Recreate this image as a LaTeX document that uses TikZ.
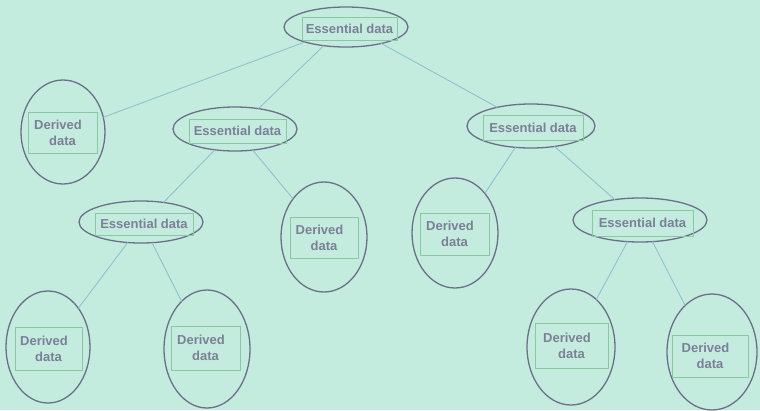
\documentclass[tikz,border=0pt]{standalone}
\usepackage{fontspec}
\setmainfont{Liberation Sans}
\usetikzlibrary{shapes.geometric}
\definecolor{bgc}{HTML}{C3ECDF}
\definecolor{ellc}{HTML}{6B7088}
\definecolor{rectc}{HTML}{88C9A0}
\definecolor{txtc}{HTML}{7C8096}
\definecolor{linkc}{HTML}{90C2CD}
\newcommand{\derivedtxt}{Derived\kern9pt\\data}
\tikzset{
  oval/.style={ellipse,draw=ellc,line width=1.3pt,inner sep=0pt,outer sep=0pt},
  box/.style={rectangle,draw=rectc,line width=0.8pt,inner sep=0pt,outer sep=0pt,
    text=txtc,align=center,font=\bfseries\fontsize{13}{16}\selectfont},
  link/.style={draw=linkc,line width=0.9pt}
}
\begin{document}
\begin{tikzpicture}[x=1pt,y=-1pt]
\fill[bgc] (0,0) rectangle (760,410);
\useasboundingbox (0,0) rectangle (760,410);
% ellipses
\node[oval,minimum width=124pt,minimum height=40pt] (top) at (346,27) {};
\node[oval,minimum width=84pt,minimum height=104pt] (d1) at (63,132) {};
\node[oval,minimum width=124pt,minimum height=44pt] (e2l) at (235,129) {};
\node[oval,minimum width=128pt,minimum height=44pt] (e2r) at (531,126) {};
\node[oval,minimum width=124pt,minimum height=42pt] (e3l) at (141,222) {};
\node[oval,minimum width=86pt,minimum height=110pt] (d2) at (324,237) {};
\node[oval,minimum width=86pt,minimum height=110pt] (d3) at (455,233) {};
\node[oval,minimum width=134pt,minimum height=44pt] (e3r) at (640,220) {};
\node[oval,minimum width=84pt,minimum height=112pt] (d4) at (48,347) {};
\node[oval,minimum width=86pt,minimum height=118pt] (d5) at (207,349) {};
\node[oval,minimum width=88pt,minimum height=116pt] (d6) at (571,347) {};
\node[oval,minimum width=90pt,minimum height=116pt] (d7) at (712,352) {};
% boxes
\node[box,minimum width=95pt,minimum height=23pt] (topr) at (349.5,28.5) {Essential data};
\node[box,minimum width=69pt,minimum height=41pt] (d1r) at (62.5,132.5) {\derivedtxt};
\node[box,minimum width=97pt,minimum height=24pt] (e2lr) at (237.5,131) {Essential data};
\node[box,minimum width=100pt,minimum height=25pt] (e2rr) at (533,127.5) {Essential data};
\node[box,minimum width=98pt,minimum height=22pt] (e3lr) at (144,224) {Essential data};
\node[box,minimum width=68pt,minimum height=41pt] (d2r) at (324,237.5) {\derivedtxt};
\node[box,minimum width=69pt,minimum height=42pt] (d3r) at (454.5,234) {\derivedtxt};
\node[box,minimum width=101pt,minimum height=26pt] (e3rr) at (642.5,223) {Essential data};
\node[box,minimum width=67pt,minimum height=43pt] (d4r) at (48.5,348.5) {\derivedtxt};
\node[box,minimum width=69pt,minimum height=44pt] (d5r) at (205.5,348) {\derivedtxt};
\node[box,minimum width=73pt,minimum height=45pt] (d6r) at (571.5,345.5) {\derivedtxt};
\node[box,minimum width=76pt,minimum height=42pt] (d7r) at (710,356) {\derivedtxt};
% connectors
\draw[link] (top.200) -- (d1.20);
\draw[link] (top.220) -- (e2l.41);
\draw[link] (top.335) -- (e2r.151);
\draw[link] (e2l.226) -- (e3l.41);
\draw[link] (e2l.310) -- (d2.129);
\draw[link] (e2r.234) -- (d3.53);
\draw[link] (e2r.319) -- (e3r.141);
\draw[link] (e3l.237) -- (d4.52);
\draw[link] (e3l.298) -- (d5.118);
\draw[link] (e3r.240) -- (d6.62);
\draw[link] (e3r.300) -- (d7.120);
\end{tikzpicture}
\end{document}
